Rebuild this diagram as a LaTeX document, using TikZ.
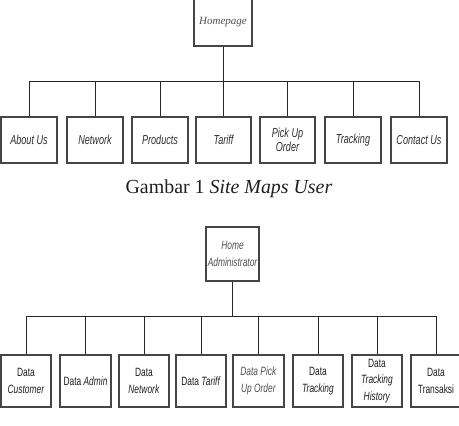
\documentclass[tikz,border=0pt]{standalone}
\usepackage{fontspec}
\setmainfont{Liberation Serif}
\newfontfamily\narrowsans[FakeStretch=0.7]{Liberation Sans}
\definecolor{boxline}{HTML}{454545}
\definecolor{txtgray}{HTML}{2E2E2E}
\definecolor{homegray}{HTML}{505050}
\begin{document}
\begin{tikzpicture}[x=1pt,y=-1pt,
  userbox/.style={draw=boxline, line width=1.2pt, fill=white, minimum width=56pt, minimum height=46pt, inner sep=1pt, align=center, text=txtgray, font={\narrowsans\itshape\fontsize{13}{14.3}\selectfont}},
  adminbox/.style={draw=boxline, line width=1.2pt, fill=white, minimum width=50pt, minimum height=52pt, inner sep=1pt, align=center, text=black!88, font={\narrowsans\fontsize{12}{16.7}\selectfont}},
  link/.style={draw=black!85, line width=1pt}]
\useasboundingbox (0,0) rectangle (459,426);

% ---------- Site map user ----------
\node[userbox, minimum width=58pt, minimum height=47pt, text=homegray, font={\rmfamily\itshape\fontsize{11}{13}\selectfont}] (home) at (223,22.5) {Homepage};
\node[userbox] (about) at (29,140) {About Us};
\node[userbox] (network) at (95,140) {Network};
\node[userbox] (products) at (160,140) {Products};
\node[userbox, minimum width=55pt] (tariff) at (223.5,140) {Tariff};
\node[userbox, minimum width=55pt] (pickup) at (287.5,140) {Pick Up\\Order};
\node[userbox] (tracking) at (353,140) {Tracking};
\node[userbox] (contact) at (419,140) {Contact Us};

\coordinate (busU) at (0,81);
\draw[link] (home.south) -- (home.south |- busU);
\draw[link] (about.north |- busU) -- (contact.north |- busU);
\foreach \n in {about,network,products,tariff,pickup,tracking,contact}
  \draw[link] (\n.north) -- (\n.north |- busU);

\node[font={\fontsize{19.9}{24}\selectfont}, text=black!88] (cap) at (229,188.5) {Gambar 1 \textit{Site Maps User}};

% ---------- Site map admin ----------
\node[adminbox, minimum width=53pt, minimum height=54pt, text=homegray, font={\narrowsans\itshape\fontsize{12}{16.7}\selectfont}] (admhome) at (232.5,254) {Home\\Administrator};
\node[adminbox] (dcust) at (26,381) {Data\\\textit{Customer}};
\node[adminbox, minimum width=51pt] (dadmin) at (85.5,381) {Data \textit{Admin}};
\node[adminbox] (dnet) at (144,381) {Data\\\textit{Network}};
\node[adminbox] (dtariff) at (201,381) {Data \textit{Tariff}};
\node[adminbox, minimum width=51pt, text=homegray] (dpick) at (258.5,381) {\textit{Data Pick}\\\textit{Up Order}};
\node[adminbox] (dtrack) at (318,381) {Data\\\textit{Tracking}};
\node[adminbox] (dhist) at (377,381) {Data\\\textit{Tracking}\\\textit{History}};
\node[adminbox] (dtrans) at (436,381) {Data\\Transaksi};

\coordinate (busA) at (0,316);
\draw[link] (admhome.south) -- (admhome.south |- busA);
\draw[link] (dcust.north |- busA) -- (dtrans.north |- busA);
\foreach \n in {dcust,dadmin,dnet,dtariff,dpick,dtrack,dhist,dtrans}
  \draw[link] (\n.north) -- (\n.north |- busA);
\end{tikzpicture}
\end{document}
